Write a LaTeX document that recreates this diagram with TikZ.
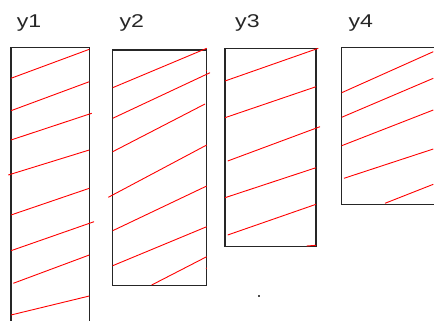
\documentclass[tikz,border=0pt]{standalone}
\usepackage{graphicx}
\usepackage{fontspec}
\setmainfont{Liberation Sans}
\newcommand{\widelbl}[1]{\scalebox{1.25}[1]{#1}}
\begin{document}
\begin{tikzpicture}[x=1pt,y=-1pt,
  boxline/.style={draw=black!85,line width=1.3pt},
  hatch/.style={draw=red,line width=0.9pt},
  lbl/.style={anchor=base west,inner sep=0pt,font=\fontsize{18.5}{20}\selectfont,text=black!85}]
\useasboundingbox (0,0) rectangle (434,321);
\clip (0,0) rectangle (434,321);
% labels
\node[lbl] (l1) at (16.7,28) {\widelbl{y1}};
\node[lbl] (l2) at (119.3,28) {\widelbl{y2}};
\node[lbl] (l3) at (235,28) {\widelbl{y3}};
\node[lbl] (l4) at (348.3,28) {\widelbl{y4}};
% box y1
\draw[boxline] (11,330) -- (11,47.3) -- (89.3,47.3) -- (89.3,330);
\draw[hatch] (11,78.3) -- (89.3,49.3);
\draw[hatch] (11,110.7) -- (89.3,81.7);
\draw[hatch] (11,140) -- (91.7,113.3);
\draw[hatch] (8.3,175) -- (89.3,150);
\draw[hatch] (11,215) -- (89.3,188.3);
\draw[hatch] (11,250.7) -- (94,221.7);
\draw[hatch] (13.3,283.3) -- (89.3,255);
\draw[hatch] (11,315) -- (89.3,296);
% box y2
\draw[boxline] (112.7,50) rectangle (206.7,285.7);
\draw[hatch] (112.7,87.7) -- (206.7,48.3);
\draw[hatch] (112.7,118.3) -- (210,72.7);
\draw[hatch] (112.7,151.7) -- (205,104);
\draw[hatch] (108.3,197.3) -- (206.7,145);
\draw[hatch] (112.7,230.7) -- (206.7,186);
\draw[hatch] (112.7,265.7) -- (206.7,226.7);
\draw[hatch] (151.7,285) -- (206.7,256.7);
\draw[hatch] (206,70.5) -- (206.7,71);
\draw[hatch] (206,268) -- (206.7,268.5);
% box y3
\draw[boxline] (225,48.3) rectangle (316,246.7);
\draw[hatch] (225,81) -- (318.3,48.3);
\draw[hatch] (225,117.7) -- (316,86.7);
\draw[hatch] (227.7,161) -- (320,126.7);
\draw[hatch] (225,197.7) -- (316,167.7);
\draw[hatch] (227.7,235) -- (316,204.3);
\draw[hatch] (306.7,246) -- (316,245.3);
% box y4
\draw[boxline] (445,47.3) -- (341.7,47.3) -- (341.7,204.3) -- (445,204.3);
\draw[hatch] (341.7,92.7) -- (433.3,51.7);
\draw[hatch] (341.7,117.3) -- (433.3,78.3);
\draw[hatch] (341.7,145.7) -- (433.3,110);
\draw[hatch] (344,178.3) -- (433.3,149);
\draw[hatch] (385,203.3) -- (433.3,184.3);
% stray dot
\fill[black!70] (258.3,294.7) rectangle (260.3,296.7);
\end{tikzpicture}
\end{document}
